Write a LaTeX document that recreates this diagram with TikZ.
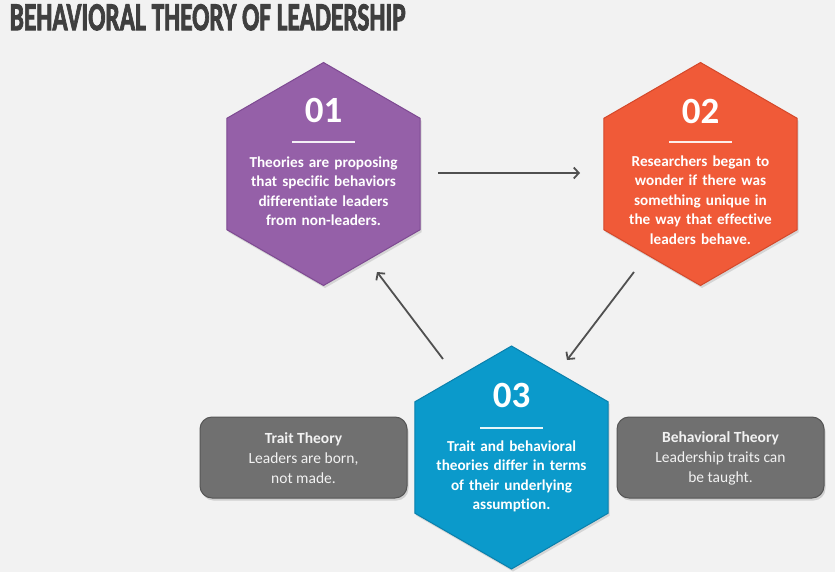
\documentclass[tikz,border=0pt]{standalone}
\usepackage{fontspec}
\setmainfont[Ligatures=NoCommon]{Carlito}
\newfontfamily\titlefont[FakeBold=2.5]{Carlito Bold}
\usetikzlibrary{shapes.geometric,shadows,arrows.meta}
\definecolor{bg}{HTML}{F2F2F2}
\definecolor{titlec}{HTML}{3F3F3F}
\definecolor{purp}{HTML}{9560A8}
\definecolor{purpd}{HTML}{7E4A92}
\definecolor{oran}{HTML}{F05A38}
\definecolor{orand}{HTML}{D4482A}
\definecolor{blu}{HTML}{0B9ACB}
\definecolor{blud}{HTML}{0A80AC}
\definecolor{boxg}{HTML}{707070}
\definecolor{boxgd}{HTML}{565656}
\definecolor{arrc}{HTML}{505050}
\tikzset{
  hexa/.style={regular polygon, regular polygon sides=6, shape border rotate=30,
    minimum size=223pt, inner sep=0pt, outer sep=0pt, line width=1pt,
    drop shadow={shadow xshift=1.5pt, shadow yshift=-2.5pt, opacity=0.25}},
  numtxt/.style={text=white, font=\fontsize{37}{40}\selectfont\bfseries, inner sep=0pt},
  bodytxt/.style={text=white, font=\fontsize{15.2}{19.5}\selectfont\bfseries, align=center, text width=185pt, inner sep=0pt},
  uline/.style={draw=white, line width=2pt, opacity=0.9},
  graybox/.style={rounded corners=12pt, fill=boxg, draw=boxgd, line width=1pt,
    minimum width=207pt, minimum height=81pt, inner sep=0pt,
    drop shadow={shadow xshift=1.5pt, shadow yshift=-2.5pt, opacity=0.3}},
  boxtxt/.style={text=white!95!black, font=\fontsize{15.5}{20}\selectfont, align=center, inner sep=0pt},
  arr/.style={draw=arrc, line width=1.8pt, -{Straight Barb[length=5pt,width=11pt,line width=1.8pt]}}
}
\begin{document}
\begin{tikzpicture}[x=1pt,y=-1pt]
\fill[bg] (0,0) rectangle (835,572);
\useasboundingbox (0,0) rectangle (835,572);

\node[anchor=north west, inner sep=0pt, text=titlec] (title) at (9.5,4)
  {\resizebox{396pt}{26pt}{\titlefont BEHAVIORAL THEORY OF LEADERSHIP}};

% hexagons
\node[hexa, fill=purp, draw=purpd] (h1) at (323.5,174) {};
\node[hexa, fill=oran, draw=orand] (h2) at (700.5,174) {};
\node[hexa, fill=blu, draw=blud] (h3) at (511.5,457.5) {};

% gray boxes
\node[graybox] (b1) at (303.5,457.5) {};
\node[boxtxt] (t4) at (303.5,458) {\textbf{Trait Theory}\\Leaders are born,\\not made.};
\node[graybox] (b2) at (720.5,457.5) {};
\node[boxtxt] (t5) at (720.5,458) {\textbf{Behavioral Theory}\\Leadership traits can\\be taught.};

% numbers
\node[numtxt] (n1) at (323.5,110) {01};
\node[numtxt] (n2) at (700.5,111) {02};
\node[numtxt] (n3) at (511.5,395) {03};

% underlines
\draw[uline] (292,142) -- (355,142);
\draw[uline] (669,142) -- (732,142);
\draw[uline] (480,428) -- (543,428);

% body texts
\node[bodytxt] (t1) at (323.5,191) {Theories are proposing\\that specific behaviors\\differentiate leaders\\from non-leaders.};
\node[bodytxt] (t2) at (700.5,200) {Researchers began to\\wonder if there was\\something unique in\\the way that effective\\leaders behave.};
\node[bodytxt] (t3) at (511.5,476.5) {Trait and behavioral\\theories differ in terms\\of their underlying\\assumption.};

% arrows
\coordinate (a1s) at (438,173);
\coordinate (a1e) at (580,173);
\coordinate (a2s) at (634,272);
\coordinate (a2e) at (567,360);
\coordinate (a3s) at (443,359);
\coordinate (a3e) at (377,272);
\draw[arr] (a1s) -- (a1e);
\draw[arr] (a2s) -- (a2e);
\draw[arr] (a3s) -- (a3e);
\end{tikzpicture}
\end{document}
